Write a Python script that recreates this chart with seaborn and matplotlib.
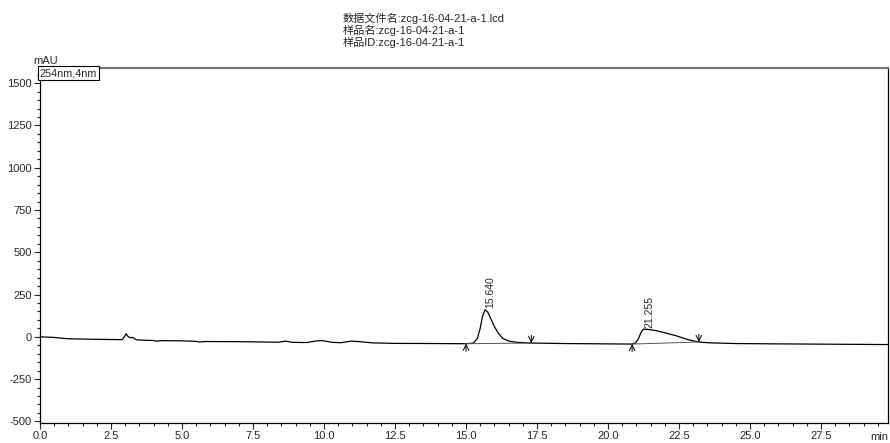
import matplotlib
matplotlib.use('Agg')
import matplotlib.pyplot as plt
from matplotlib.ticker import MultipleLocator, FormatStrFormatter
import seaborn as sns
import pandas as pd

# chromatogram trace (time in min, signal in mAU)
time_min = [0.0, 0.5, 1.0, 2.0, 2.9, 2.97, 3.03, 3.1, 3.17, 3.25, 3.4, 3.6,
            4.0, 4.1, 4.25, 5.0, 5.5, 5.62, 5.8, 7.0, 8.4, 8.65, 8.9, 9.4,
            9.75, 9.95, 10.3, 10.6, 10.95, 11.2, 11.7, 12.5, 14.0, 15.0, 15.25,
            15.4, 15.5, 15.58, 15.67, 15.77, 15.88, 16.0, 16.15, 16.3, 16.5, 16.8,
            17.3, 18.5, 20.0, 20.85, 20.97, 21.07, 21.17, 21.25, 21.4, 21.7,
            22.0, 22.4, 22.8, 23.2, 23.6, 24.5, 26.0, 28.0, 29.86]
signal_mau = [0, -4, -12, -15, -17, 0, 18, 2, -6, -3, -18, -20,
              -22, -26, -23, -24, -27, -31, -28, -29, -32, -26, -33, -34,
              -24, -23, -33, -35, -26, -28, -36, -39, -40, -41, -38,
              -10, 50, 120, 160, 145, 105, 60, 18, -10, -25, -33,
              -37, -40, -42, -43, -36, -12, 28, 45, 44, 36,
              24, 6, -16, -31, -36, -40, -42, -44, -46]

peak_rt = [15.640, 21.255]
peak_top = [15.67, 21.25]
peak_height = [160, 45]
peak_start = [15.0, 20.85]
peak_start_val = [-41, -43]
peak_end = [17.3, 23.2]
peak_end_val = [-37, -31]

title_lines = ['数据文件名:zcg-16-04-21-a-1.lcd', '样品名:zcg-16-04-21-a-1', '样品ID:zcg-16-04-21-a-1']

sns.set_style('ticks')
plt.rcParams['font.family'] = ['Liberation Sans', 'Noto Sans CJK SC', 'DejaVu Sans']
plt.rcParams['axes.unicode_minus'] = False

df = pd.DataFrame({'time': time_min, 'mAU': signal_mau})

fig = plt.figure(figsize=(8.9, 4.43), dpi=100)
ax = fig.add_axes([40 / 890, 1 - 423 / 443, 848 / 890, (423 - 68) / 443])

sns.lineplot(data=df, x='time', y='mAU', ax=ax, color='black', linewidth=0.9, sort=False, estimator=None)

# integration baselines and start/end arrows
for s, sv, e, ev in zip(peak_start, peak_start_val, peak_end, peak_end_val):
    ax.plot([s, e], [sv, ev], color='#555555', linewidth=0.7)
    ax.annotate('', xy=(s, sv), xytext=(s, sv - 45),
                arrowprops=dict(arrowstyle='->', color='black', lw=0.7, shrinkA=0, shrinkB=0))
    ax.annotate('', xy=(e, ev), xytext=(e, ev + 45),
                arrowprops=dict(arrowstyle='->', color='black', lw=0.7, shrinkA=0, shrinkB=0))

# retention time labels
for rt, t, h in zip(peak_rt, peak_top, peak_height):
    ax.annotate(f'{rt:.3f}', xy=(t, h), xytext=(4, 1), textcoords='offset points',
                rotation=90, ha='center', va='bottom', fontsize=7.5)

ax.set_xlim(0, 29.86)
ax.set_ylim(-510, 1590)
ax.xaxis.set_major_locator(MultipleLocator(2.5))
ax.xaxis.set_minor_locator(MultipleLocator(0.5))
ax.yaxis.set_major_locator(MultipleLocator(250))
ax.yaxis.set_minor_locator(MultipleLocator(50))
ax.xaxis.set_major_formatter(FormatStrFormatter('%.1f'))
ax.yaxis.set_major_formatter(FormatStrFormatter('%d'))
ax.tick_params(which='major', direction='out', length=4, width=0.8, labelsize=8, pad=2)
ax.tick_params(which='minor', direction='out', length=2.5, width=0.8)
ax.set_xlabel('')
ax.set_ylabel('')

for side in ['left', 'bottom', 'right']:
    ax.spines[side].set_visible(True)
    ax.spines[side].set_color('black')
    ax.spines[side].set_linewidth(0.9)
ax.spines['top'].set_visible(True)
ax.spines['top'].set_color('#777777')
ax.spines['top'].set_linewidth(1.6)

ax.text(0.0, 1.0, '254nm,4nm', transform=ax.transAxes, ha='left', va='top', fontsize=7.8,
        bbox=dict(boxstyle='square,pad=0.15', facecolor='white', edgecolor='black', linewidth=0.8))

fig.text(33 / 890, 1 - 61 / 443, 'mAU', ha='left', va='center', fontsize=8)
fig.text(888 / 890, 1 - 437 / 443, 'min', ha='right', va='center', fontsize=8)

for i, line in enumerate(title_lines):
    fig.text(343 / 890, 1 - (18 + 12 * i) / 443, line, ha='left', va='center', fontsize=8)

fig.savefig('out.png', dpi=100)
